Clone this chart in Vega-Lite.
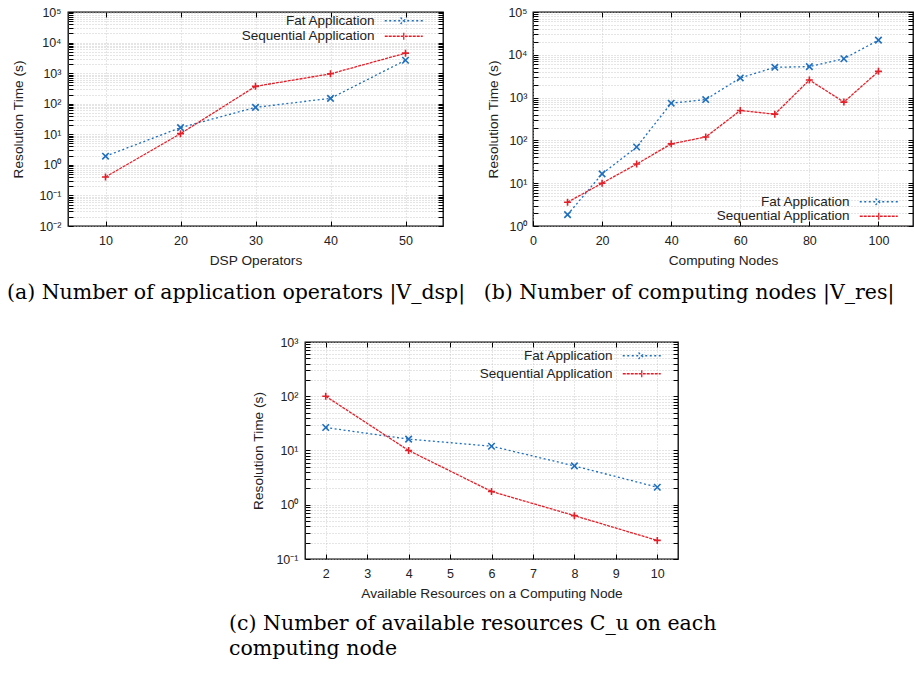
{
  "$schema": "https://vega.github.io/schema/vega-lite/v6.json",
  "padding": {"left": 6, "top": 5, "right": 0, "bottom": 0},
  "background": "white",
  "config": {
    "font": "Liberation Sans",
    "view": {"stroke": "black", "strokeWidth": 1.3},
    "axis": {
      "labelFont": "Liberation Sans",
      "titleFont": "Liberation Sans",
      "labelFontSize": 12.5,
      "titleFontSize": 13.7,
      "titleFontWeight": "normal",
      "labelColor": "#222",
      "titleColor": "#222",
      "domain": false,
      "tickColor": "black",
      "tickSize": -5,
      "tickWidth": 1,
      "gridColor": "#bdbdbd",
      "gridDash": [1, 2],
      "gridWidth": 0.8,
      "labelOverlap": false,
      "labelFlush": false
    },
    "legend": {
      "labelFont": "Liberation Sans",
      "labelFontSize": 13.5,
      "labelColor": "#222",
      "labelAlign": "right",
      "labelOffset": -62,
      "symbolSize": 64,
      "symbolStrokeWidth": 1.3,
      "rowPadding": 0.5,
      "padding": 0
    },
    "title": {"font": "DejaVu Serif", "fontSize": 20.5, "fontWeight": "normal", "color": "black", "orient": "bottom", "anchor": "start", "frame": "bounds", "offset": 16}
  },
  "datasets": {
    "a": [
      {"x": 10, "time": 1.92, "series": "Fat Application"},
      {"x": 20, "time": 16.5, "series": "Fat Application"},
      {"x": 30, "time": 76, "series": "Fat Application"},
      {"x": 40, "time": 150, "series": "Fat Application"},
      {"x": 50, "time": 2650, "series": "Fat Application"},
      {"x": 10, "time": 0.4, "series": "Sequential Application"},
      {"x": 20, "time": 10.5, "series": "Sequential Application"},
      {"x": 30, "time": 370, "series": "Sequential Application"},
      {"x": 40, "time": 950, "series": "Sequential Application"},
      {"x": 50, "time": 4500, "series": "Sequential Application"}
    ],
    "b": [
      {"x": 10, "time": 1.84, "series": "Fat Application"},
      {"x": 20, "time": 16.5, "series": "Fat Application"},
      {"x": 30, "time": 70, "series": "Fat Application"},
      {"x": 40, "time": 740, "series": "Fat Application"},
      {"x": 50, "time": 900, "series": "Fat Application"},
      {"x": 60, "time": 2880, "series": "Fat Application"},
      {"x": 70, "time": 5100, "series": "Fat Application"},
      {"x": 80, "time": 5300, "series": "Fat Application"},
      {"x": 90, "time": 8100, "series": "Fat Application"},
      {"x": 100, "time": 22000, "series": "Fat Application"},
      {"x": 10, "time": 3.6, "series": "Sequential Application"},
      {"x": 20, "time": 10, "series": "Sequential Application"},
      {"x": 30, "time": 28, "series": "Sequential Application"},
      {"x": 40, "time": 83, "series": "Sequential Application"},
      {"x": 50, "time": 120, "series": "Sequential Application"},
      {"x": 60, "time": 500, "series": "Sequential Application"},
      {"x": 70, "time": 410, "series": "Sequential Application"},
      {"x": 80, "time": 2580, "series": "Sequential Application"},
      {"x": 90, "time": 785, "series": "Sequential Application"},
      {"x": 100, "time": 4100, "series": "Sequential Application"}
    ],
    "c": [
      {"x": 2, "time": 26.5, "series": "Fat Application"},
      {"x": 4, "time": 16.2, "series": "Fat Application"},
      {"x": 6, "time": 12, "series": "Fat Application"},
      {"x": 8, "time": 5.2, "series": "Fat Application"},
      {"x": 10, "time": 2.1, "series": "Fat Application"},
      {"x": 2, "time": 100, "series": "Sequential Application"},
      {"x": 4, "time": 10, "series": "Sequential Application"},
      {"x": 6, "time": 1.76, "series": "Sequential Application"},
      {"x": 8, "time": 0.63, "series": "Sequential Application"},
      {"x": 10, "time": 0.22, "series": "Sequential Application"}
    ]
  },
  "concat": [
    {
      "hconcat": [
        {
          "width": 375,
          "height": 214,
          "title": {"text": "(a) Number of application operators |V_dsp|", "dx": -5},
          "data": {"name": "a"},
          "layer": [
            {
              "transform": [{"filter": "datum.series == 'Fat Application'"}],
              "mark": {"type": "line", "strokeWidth": 1.3, "strokeDash": [2, 2.5]},
              "encoding": {
                "x": {"field": "x", "type": "quantitative", "scale": {"domain": [5, 55], "nice": false, "zero": false},
                  "axis": {"orient": "bottom", "title": "DSP Operators", "values": [10, 20, 30, 40, 50], "grid": true, "labelPadding": 13, "titlePadding": 7}},
                "y": {"field": "time", "type": "quantitative", "scale": {"type": "log", "domain": [0.01, 100000], "nice": false},
                  "axis": {"orient": "left", "title": "Resolution Time (s)", "grid": true, "labelPadding": 12, "titlePadding": 13,
                    "values": [0.01,0.02,0.03,0.04,0.05,0.06,0.07,0.08,0.09,0.1,0.2,0.3,0.4,0.5,0.6,0.7,0.8,0.9,1,2,3,4,5,6,7,8,9,10,20,30,40,50,60,70,80,90,100,200,300,400,500,600,700,800,900,1000,2000,3000,4000,5000,6000,7000,8000,9000,10000,20000,30000,40000,50000,60000,70000,80000,90000,100000],
                    "labelExpr": "abs(log(datum.value)/LN10 - round(log(datum.value)/LN10)) < 0.001 ? '10' + ['⁻²','⁻¹','⁰','¹','²','³','⁴','⁵'][round(log(datum.value)/LN10)+2] : ''"}},
                "color": {"field": "series", "type": "nominal", "scale": {"domain": ["Fat Application", "Sequential Application"], "range": ["#1f6fbf", "#e3202a"]},
                  "legend": {"orient": "top-right", "title": null, "offset": 2,
                    "encode": {"symbols": {"update": {"size": {"value": 64}, "fill": {"value": "transparent"}, "opacity": {"value": 1},
                      "strokeDash": {"signal": "datum.value == 'Fat Application' ? [2, 2.5] : [3, 1]"},
                      "shape": {"signal": "datum.value == 'Fat Application' ? 'M-11.25,0L-1.75,0M-7.3,-0.8L-5.7,0.8M-7.3,0.8L-5.7,-0.8M2,0' : 'M-11.25,0L-1.75,0M-6.5,-0.9L-6.5,0.9M2,0'"}}}}}}
              }
            },
            {
              "transform": [{"filter": "datum.series == 'Sequential Application'"}],
              "mark": {"type": "line", "strokeWidth": 1.3, "strokeDash": [3, 1]},
              "encoding": {
                "x": {"field": "x", "type": "quantitative", "axis": null},
                "y": {"field": "time", "type": "quantitative", "axis": null},
                "color": {"field": "series", "type": "nominal"}
              }
            },
            {
              "transform": [{"filter": "datum.series == 'Fat Application'"}],
              "mark": {"type": "point", "filled": false, "strokeWidth": 1.6, "size": 42, "opacity": 1, "shape": "M-1,-1L1,1M-1,1L1,-1"},
              "encoding": {
                "x": {"field": "x", "type": "quantitative", "axis": {"orient": "top", "labels": false, "title": null, "grid": false, "values": [10, 20, 30, 40, 50]}},
                "y": {"field": "time", "type": "quantitative", "axis": {"orient": "right", "labels": false, "title": null, "grid": false,
                  "values": [0.01,0.02,0.03,0.04,0.05,0.06,0.07,0.08,0.09,0.1,0.2,0.3,0.4,0.5,0.6,0.7,0.8,0.9,1,2,3,4,5,6,7,8,9,10,20,30,40,50,60,70,80,90,100,200,300,400,500,600,700,800,900,1000,2000,3000,4000,5000,6000,7000,8000,9000,10000,20000,30000,40000,50000,60000,70000,80000,90000,100000]}},
                "color": {"field": "series", "type": "nominal"}
              }
            },
            {
              "transform": [{"filter": "datum.series == 'Sequential Application'"}],
              "mark": {"type": "point", "filled": false, "strokeWidth": 1.6, "size": 49, "opacity": 1, "shape": "M-1,0L1,0M0,-1L0,1"},
              "encoding": {
                "x": {"field": "x", "type": "quantitative", "axis": null},
                "y": {"field": "time", "type": "quantitative", "axis": null},
                "color": {"field": "series", "type": "nominal"}
              }
            }
          ],
          "resolve": {"axis": {"x": "independent", "y": "independent"}}
        },
        {
          "width": 380,
          "height": 214,
          "title": {"text": "(b) Number of computing nodes |V_res|", "dx": -3},
          "data": {"name": "b"},
          "layer": [
            {
              "transform": [{"filter": "datum.series == 'Fat Application'"}],
              "mark": {"type": "line", "strokeWidth": 1.3, "strokeDash": [2, 2.5]},
              "encoding": {
                "x": {"field": "x", "type": "quantitative", "scale": {"domain": [0, 110], "nice": false, "zero": false},
                  "axis": {"orient": "bottom", "title": "Computing Nodes", "values": [0, 20, 40, 60, 80, 100], "grid": true, "labelPadding": 13, "titlePadding": 7}},
                "y": {"field": "time", "type": "quantitative", "scale": {"type": "log", "domain": [1, 100000], "nice": false},
                  "axis": {"orient": "left", "title": "Resolution Time (s)", "grid": true, "labelPadding": 11, "titlePadding": 7,
                    "values": [1,2,3,4,5,6,7,8,9,10,20,30,40,50,60,70,80,90,100,200,300,400,500,600,700,800,900,1000,2000,3000,4000,5000,6000,7000,8000,9000,10000,20000,30000,40000,50000,60000,70000,80000,90000,100000],
                    "labelExpr": "abs(log(datum.value)/LN10 - round(log(datum.value)/LN10)) < 0.001 ? '10' + ['⁻²','⁻¹','⁰','¹','²','³','⁴','⁵'][round(log(datum.value)/LN10)+2] : ''"}},
                "color": {"field": "series", "type": "nominal", "scale": {"domain": ["Fat Application", "Sequential Application"], "range": ["#1f6fbf", "#e3202a"]},
                  "legend": {"orient": "bottom-right", "title": null, "offset": 3, "rowPadding": -0.5,
                    "encode": {"symbols": {"update": {"size": {"value": 64}, "fill": {"value": "transparent"}, "opacity": {"value": 1},
                      "strokeDash": {"signal": "datum.value == 'Fat Application' ? [2, 2.5] : [3, 1]"},
                      "shape": {"signal": "datum.value == 'Fat Application' ? 'M-11.25,0L-1.75,0M-7.3,-0.8L-5.7,0.8M-7.3,0.8L-5.7,-0.8M0.5,0' : 'M-11.25,0L-1.75,0M-6.5,-0.9L-6.5,0.9M0.5,0'"}}}}}}
              }
            },
            {
              "transform": [{"filter": "datum.series == 'Sequential Application'"}],
              "mark": {"type": "line", "strokeWidth": 1.3, "strokeDash": [3, 1]},
              "encoding": {
                "x": {"field": "x", "type": "quantitative", "axis": null},
                "y": {"field": "time", "type": "quantitative", "axis": null},
                "color": {"field": "series", "type": "nominal"}
              }
            },
            {
              "transform": [{"filter": "datum.series == 'Fat Application'"}],
              "mark": {"type": "point", "filled": false, "strokeWidth": 1.6, "size": 42, "opacity": 1, "shape": "M-1,-1L1,1M-1,1L1,-1"},
              "encoding": {
                "x": {"field": "x", "type": "quantitative", "axis": {"orient": "top", "labels": false, "title": null, "grid": false, "values": [0, 20, 40, 60, 80, 100]}},
                "y": {"field": "time", "type": "quantitative", "axis": {"orient": "right", "labels": false, "title": null, "grid": false,
                  "values": [1,2,3,4,5,6,7,8,9,10,20,30,40,50,60,70,80,90,100,200,300,400,500,600,700,800,900,1000,2000,3000,4000,5000,6000,7000,8000,9000,10000,20000,30000,40000,50000,60000,70000,80000,90000,100000]}},
                "color": {"field": "series", "type": "nominal"}
              }
            },
            {
              "transform": [{"filter": "datum.series == 'Sequential Application'"}],
              "mark": {"type": "point", "filled": false, "strokeWidth": 1.6, "size": 49, "opacity": 1, "shape": "M-1,0L1,0M0,-1L0,1"},
              "encoding": {
                "x": {"field": "x", "type": "quantitative", "axis": null},
                "y": {"field": "time", "type": "quantitative", "axis": null},
                "color": {"field": "series", "type": "nominal"}
              }
            }
          ],
          "resolve": {"axis": {"x": "independent", "y": "independent"}}
        }
      ],
      "spacing": 17,
      "resolve": {"scale": {"color": "independent"}}
    },
    {
      "hconcat": [
        {
          "width": 160,
          "height": 10,
          "view": {"stroke": null},
          "data": {"values": []},
          "mark": {"type": "point", "opacity": 0}
        },
        {
          "width": 373,
          "height": 217,
          "title": {"text": ["(c) Number of available resources C_u on each", "computing node"], "frame": "group", "dx": -76, "lineHeight": 25, "offset": 14},
          "data": {"name": "c"},
          "layer": [
            {
              "transform": [{"filter": "datum.series == 'Fat Application'"}],
              "mark": {"type": "line", "strokeWidth": 1.3, "strokeDash": [2, 2.5]},
              "encoding": {
                "x": {"field": "x", "type": "quantitative", "scale": {"domain": [1.5, 10.5], "nice": false, "zero": false},
                  "axis": {"orient": "bottom", "title": "Available Resources on a Computing Node", "values": [2, 3, 4, 5, 6, 7, 8, 9, 10], "grid": true, "labelPadding": 13, "titlePadding": 7}},
                "y": {"field": "time", "type": "quantitative", "scale": {"type": "log", "domain": [0.1, 1000], "nice": false},
                  "axis": {"orient": "left", "title": "Resolution Time (s)", "grid": true, "labelPadding": 12, "titlePadding": 10,
                    "values": [0.1,0.2,0.3,0.4,0.5,0.6,0.7,0.8,0.9,1,2,3,4,5,6,7,8,9,10,20,30,40,50,60,70,80,90,100,200,300,400,500,600,700,800,900,1000],
                    "labelExpr": "abs(log(datum.value)/LN10 - round(log(datum.value)/LN10)) < 0.001 ? '10' + ['⁻²','⁻¹','⁰','¹','²','³','⁴','⁵'][round(log(datum.value)/LN10)+2] : ''"}},
                "color": {"field": "series", "type": "nominal", "scale": {"domain": ["Fat Application", "Sequential Application"], "range": ["#1f6fbf", "#e3202a"]},
                  "legend": {"orient": "top-right", "title": null, "offset": 7, "rowPadding": 3, "labelOffset": -54,
                    "encode": {"symbols": {"update": {"size": {"value": 64}, "fill": {"value": "transparent"}, "opacity": {"value": 1},
                      "strokeDash": {"signal": "datum.value == 'Fat Application' ? [2, 2.5] : [3, 1]"},
                      "shape": {"signal": "datum.value == 'Fat Application' ? 'M-9.25,0L0.25,0M-5.3,-0.8L-3.7,0.8M-5.3,0.8L-3.7,-0.8M2,0' : 'M-9.25,0L0.25,0M-4.5,-0.9L-4.5,0.9M2,0'"}}}}}}
              }
            },
            {
              "transform": [{"filter": "datum.series == 'Sequential Application'"}],
              "mark": {"type": "line", "strokeWidth": 1.3, "strokeDash": [3, 1]},
              "encoding": {
                "x": {"field": "x", "type": "quantitative", "axis": null},
                "y": {"field": "time", "type": "quantitative", "axis": null},
                "color": {"field": "series", "type": "nominal"}
              }
            },
            {
              "transform": [{"filter": "datum.series == 'Fat Application'"}],
              "mark": {"type": "point", "filled": false, "strokeWidth": 1.6, "size": 42, "opacity": 1, "shape": "M-1,-1L1,1M-1,1L1,-1"},
              "encoding": {
                "x": {"field": "x", "type": "quantitative", "axis": {"orient": "top", "labels": false, "title": null, "grid": false, "values": [2, 3, 4, 5, 6, 7, 8, 9, 10]}},
                "y": {"field": "time", "type": "quantitative", "axis": {"orient": "right", "labels": false, "title": null, "grid": false,
                  "values": [0.1,0.2,0.3,0.4,0.5,0.6,0.7,0.8,0.9,1,2,3,4,5,6,7,8,9,10,20,30,40,50,60,70,80,90,100,200,300,400,500,600,700,800,900,1000]}},
                "color": {"field": "series", "type": "nominal"}
              }
            },
            {
              "transform": [{"filter": "datum.series == 'Sequential Application'"}],
              "mark": {"type": "point", "filled": false, "strokeWidth": 1.6, "size": 49, "opacity": 1, "shape": "M-1,0L1,0M0,-1L0,1"},
              "encoding": {
                "x": {"field": "x", "type": "quantitative", "axis": null},
                "y": {"field": "time", "type": "quantitative", "axis": null},
                "color": {"field": "series", "type": "nominal"}
              }
            }
          ],
          "resolve": {"axis": {"x": "independent", "y": "independent"}}
        }
      ],
      "spacing": 0,
      "resolve": {"scale": {"color": "independent"}}
    }
  ],
  "columns": 1,
  "spacing": 30,
  "resolve": {"scale": {"color": "independent"}}
}
